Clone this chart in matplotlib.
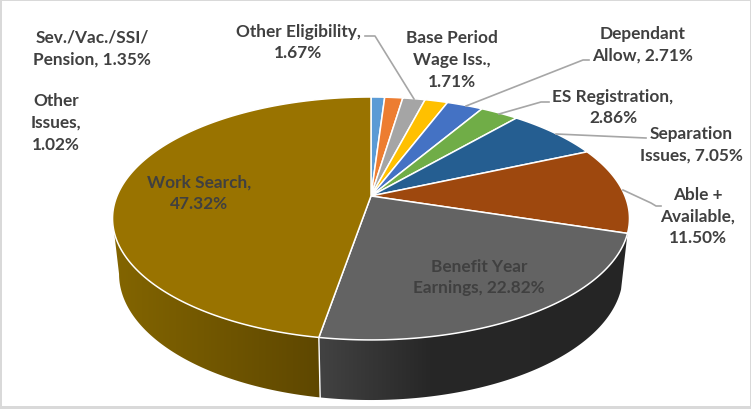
import numpy as np
import matplotlib
matplotlib.use("Agg")
import matplotlib.pyplot as plt
from matplotlib.patches import Polygon, Rectangle
from matplotlib.colors import to_rgb

# slices, clockwise from 12 o'clock
names = ["Other Issues", "Sev./Vac./SSI/Pension", "Other Eligibility", "Base Period Wage Iss.",
         "Dependant Allow", "ES Registration", "Separation Issues", "Able + Available",
         "Benefit Year Earnings", "Work Search"]
values = [1.02, 1.35, 1.67, 1.71, 2.71, 2.86, 7.05, 11.50, 22.82, 47.32]
colors = ["#5B9BD5", "#ED7D31", "#A5A5A5", "#FFC000", "#4472C4",
          "#70AD47", "#255E91", "#9E480E", "#636363", "#997300"]

labels = ["Sev./Vac./SSI/\nPension, 1.35%", "Other\nIssues,\n1.02%", "Other Eligibility,\n1.67%",
          "Base Period\nWage Iss.,\n1.71%", "Dependant\nAllow, 2.71%", "ES Registration,\n2.86%",
          "Separation\nIssues, 7.05%", "Able +\nAvailable,\n11.50%",
          "Benefit Year\nEarnings, 22.82%", "Work Search,\n47.32%"]
label_x = [92, 56, 298, 452, 643, 613, 691, 698, 479, 199]
label_y = [48.5, 123, 42.5, 60, 44.5, 107.5, 144.5, 216.5, 277.5, 193.5]

leaders = [
    [(365, 37), (375, 37), (414, 100)],
    [(589, 61), (583, 61), (466, 107)],
    [(549, 103), (541, 103), (499, 115)],
    [(646, 139), (556, 135)],
    [(623, 191), (651, 204), (656, 207), (661, 207)],
]

# wall shading, left to right in pixels
gold_wall = [(114, "#836500"), (320, "#5E4700")]
gray_wall = [(320, "#424242"), (430, "#272727"), (630, "#252525")]

plt.rcParams["font.family"] = ["Lato", "DejaVu Sans"]

# perspective of the pie disc
K = 0.185
CX = 371


def project(theta, a, b, cy):
    u, v = np.sin(theta), np.cos(theta)
    d = 1 + K * v
    return CX + a * u / d, cy - b * v / d


def top(theta):
    return project(theta, 254, 117.3, 197)


def bottom(theta):
    return project(theta, 247.6, 121.7, 251.7)


def wall(t, stops):
    xt, yt = top(t)
    xb, yb = bottom(t)
    pts = list(zip(xt, yt)) + list(zip(xb[::-1], yb[::-1]))
    poly = Polygon(pts, closed=True, fc="none", ec="none")
    ax.add_patch(poly)
    xs = np.arange(100, 640)
    rgb = np.array([to_rgb(s[1]) for s in stops])
    grad = np.stack([np.interp(xs, [s[0] for s in stops], rgb[:, i]) for i in range(3)], axis=-1)
    im = ax.imshow(grad[np.newaxis, :, :], extent=(100, 640, 410, 90), aspect="auto",
                   interpolation="bilinear", zorder=1)
    im.set_clip_path(poly)


fig = plt.figure(figsize=(7.51, 4.10), dpi=100, facecolor="#D9D9D9")
ax = fig.add_axes([0, 0, 1, 1])
ax.axis("off")
ax.add_patch(Rectangle((2, 2), 748, 405, fc="white", ec="none", zorder=0))

edges = np.concatenate([[0], np.cumsum(values)]) / np.sum(values) * 2 * np.pi

# side walls of the two big slices, the gold one stops at the silhouette
wall(np.linspace(edges[9], 2 * np.pi - np.arccos(-K), 240), gold_wall)
wall(np.linspace(edges[8], edges[9], 240), gray_wall)

# white line where the walls meet
x0, y0 = top(edges[9])
x1, y1 = bottom(edges[9])
ax.plot([x0, x1], [y0, y1], color="white", lw=1.0, zorder=2)

# top face
for i in range(len(values)):
    t = np.linspace(edges[i], edges[i + 1], 200)
    x, y = top(t)
    pts = [(CX, 197)] + list(zip(x, y))
    ax.add_patch(Polygon(pts, closed=True, fc=colors[i], ec="white", lw=1.1, joinstyle="round", zorder=3))

for pts in leaders:
    ax.plot(*zip(*pts), color="#A6A6A6", lw=1.2, solid_joinstyle="round", zorder=4)

for s, x, y in zip(labels, label_x, label_y):
    ax.text(x, y, s, ha="center", va="center", fontsize=12.4, fontweight="bold",
            color="#404040", linespacing=1.46, zorder=5)

ax.set_xlim(0, 751)
ax.set_ylim(410, 0)
fig.savefig("out.png", dpi=100, facecolor=fig.get_facecolor())
